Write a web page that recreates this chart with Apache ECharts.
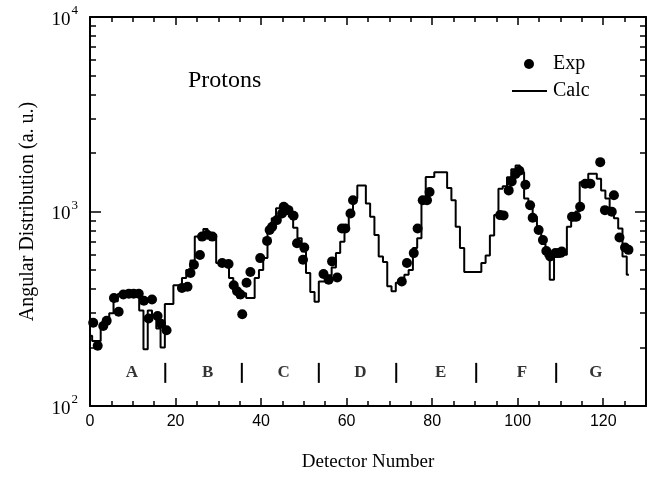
<!DOCTYPE html>
<html><head><meta charset="utf-8">
<script src="https://cdn.jsdelivr.net/npm/echarts@6/dist/echarts.min.js"></script>
<style>html,body{margin:0;padding:0;background:#fff}#c{width:662px;height:477px}</style>
</head><body><div id="c"></div>
<script>
// Calculated angular distribution, one value per detector (index = detector number)
const calcValues = [
  230,216,216,263,274,300,346,377,377,377,377,377,310,196,310,290,250,200,
  335,335,418,418,455,500,560,743,743,813,760,760,543,543,543,455,390,359,
  380,359,359,455,501,576,790,922,1040,1060,1060,939,826,728,622,483,386,344,
  437,437,470,516,611,700,835,958,1165,1361,1361,1100,939,757,587,550,413,389,
  430,450,473,501,650,728,1165,1503,1503,1593,1593,1593,1321,1143,835,650,489,489,
  489,489,543,594,752,958,1310,1350,1500,1650,1723,1593,1165,1035,939,818,680,587,
  446,587,587,600,835,900,1000,1415,1415,1563,1563,1473,1284,1165,1035,922,818,587,473
];
// Experimental points
const expDetector = [
  0.75,1.8,3.1,3.9,5.6,6.7,7.8,9.1,10.2,11.4,12.6,13.7,14.5,15.8,16.6,17.9,
  21.5,22.8,23.5,24.3,25.7,26.2,27.4,28.6,30.9,32.4,33.6,34.4,35.2,35.6,
  36.6,37.5,39.8,41.4,42.0,42.6,43.7,44.9,45.3,45.7,46.4,47.6,48.4,49.8,50.1,
  54.6,55.8,56.6,57.8,58.9,59.7,60.9,61.5,
  72.9,74.1,75.7,76.6,77.8,78.8,79.4,
  95.9,96.7,97.9,98.6,99.5,100.4,101.8,102.9,103.5,104.9,105.9,106.7,107.6,108.8,109.6,110.3,
  112.7,113.7,114.6,115.8,117.0,119.3,120.4,122.0,122.5,123.8,125.1,125.9
];
const expValues = [
  268,204,258,274,359,305,374,378,378,378,348,282,353,290,265,245,
  404,410,483,532,598,743,760,743,543,537,418,389,374,296,
  430,489,576,706,803,835,903,977,1057,1035,1016,951,687,565,653,
  477,446,554,458,818,818,977,1143,
  437,543,611,818,1143,1143,1260,
  958,955,1284,1428,1560,1620,1374,1077,928,803,714,627,587,611,611,622,
  939,939,1057,1390,1390,1794,1016,996,1211,735,653,635
];
const sectionNames = ['A','B','C','D','E','F','G'];
const sectionCenters = [9.8,27.5,45.3,63.2,82.0,101.0,118.3];
const sectionBounds = [17.6,35.5,53.5,71.6,90.3,109.0];
const xTickLabels = [0,20,40,60,80,100,120];
const yMinorTicks = [200,300,400,500,600,700,800,900,2000,3000,4000,5000,6000,7000,8000,9000];

const serif = 'Liberation Serif';
const sans = 'Liberation Sans';
const sectionY = 148;
const minorExp = yMinorTicks.map(v => Math.log10(v));

const chart = echarts.init(document.getElementById('c'), null, {renderer: 'canvas'});
const axisLine = {show: true, lineStyle: {color: '#000', width: 2}};
const helperY = (pos) => ({
  type: 'value', min: 2, max: 4, position: pos,
  axisLine: {show: false}, axisLabel: {show: false}, splitLine: {show: false},
  axisTick: {show: true, inside: true, length: 6, lineStyle: {color: '#000', width: 1.5}, customValues: minorExp}
});
chart.setOption({
  animation: false,
  backgroundColor: '#fff',
  title: {text: 'Protons', left: 183, top: 64, textStyle: {fontFamily: serif, fontSize: 24, fontWeight: 'normal', color: '#000'}},
  legend: [
    {data: [{name: 'Exp', icon: 'circle'}], left: 519, top: 49, itemWidth: 34, itemHeight: 10,
     textStyle: {fontFamily: serif, fontSize: 20, color: '#000', padding: [0,0,0,2]}},
    {data: [{name: 'Calc', icon: 'rect'}], left: 507, top: 76, itemWidth: 35, itemHeight: 2,
     textStyle: {fontFamily: serif, fontSize: 20, color: '#000', padding: [0,0,0,1]}}
  ],
  grid: {left: 90, right: 16, top: 17, bottom: 68, containLabel: false},
  xAxis: [
    {type: 'value', min: 0, max: 130, interval: 20, position: 'bottom',
     name: 'Detector Number', nameLocation: 'middle', nameGap: 47,
     nameTextStyle: {fontFamily: serif, fontSize: 19, color: '#000'},
     axisLine: axisLine, splitLine: {show: false},
     axisTick: {inside: true, length: 8, lineStyle: {color: '#000', width: 1.5}},
     minorTick: {show: true, splitNumber: 4, length: 5, lineStyle: {color: '#000', width: 1.5}},
     axisLabel: {fontFamily: sans, fontSize: 16, color: '#000', margin: 8,
       formatter: v => xTickLabels.includes(v) ? String(v) : ''}},
    {type: 'value', min: 0, max: 130, interval: 20, position: 'top',
     axisLine: axisLine, splitLine: {show: false}, axisLabel: {show: false},
     axisTick: {inside: true, length: 8, lineStyle: {color: '#000', width: 1.5}},
     minorTick: {show: true, splitNumber: 4, length: 5, lineStyle: {color: '#000', width: 1.5}}}
  ],
  yAxis: [
    {type: 'log', logBase: 10, min: 100, max: 10000, position: 'left',
     name: 'Angular Distribution (a. u.)', nameLocation: 'middle', nameGap: 52,
     nameTextStyle: {fontFamily: serif, fontSize: 20, color: '#000'},
     axisLine: axisLine, splitLine: {show: false},
     axisTick: {inside: true, length: 11, lineStyle: {color: '#000', width: 1.5}},
     axisLabel: {margin: 12,
       formatter: v => '{b|10}{s|' + Math.round(Math.log10(v)) + '}',
       rich: {b: {fontFamily: serif, fontSize: 19, color: '#000', padding: [6,0,0,0]},
              s: {fontFamily: serif, fontSize: 13, color: '#000', verticalAlign: 'top', padding: [0,0,12,1]}}}},
    helperY('left'),
    {type: 'log', logBase: 10, min: 100, max: 10000, position: 'right',
     axisLine: axisLine, splitLine: {show: false}, axisLabel: {show: false},
     axisTick: {inside: true, length: 11, lineStyle: {color: '#000', width: 1.5}}},
    helperY('right')
  ],
  series: [
    {name: 'Calc', type: 'line', step: 'middle', symbol: 'none', xAxisIndex: 0, yAxisIndex: 0,
     color: '#000', lineStyle: {color: '#000', width: 2},
     data: calcValues.map((v, i) => [i, v])},
    {name: 'Exp', type: 'scatter', symbol: 'circle', symbolSize: 10, xAxisIndex: 0, yAxisIndex: 0,
     itemStyle: {color: '#000', opacity: 1}, z: 3,
     data: expDetector.map((d, i) => [d, expValues[i]])},
    {name: 'bounds', type: 'scatter', symbol: 'rect', symbolSize: [2, 20], silent: true,
     xAxisIndex: 0, yAxisIndex: 0, itemStyle: {color: '#000', opacity: 1},
     data: sectionBounds.map(x => [x, sectionY])},
    {name: 'sections', type: 'scatter', symbolSize: 0, silent: true, xAxisIndex: 0, yAxisIndex: 0,
     label: {show: true, position: 'inside', formatter: p => p.name,
       fontFamily: serif, fontSize: 17, fontWeight: 'bold', color: '#000'},
     data: sectionCenters.map((x, i) => ({name: sectionNames[i], value: [x, sectionY]}))}
  ]
});
</script></body></html>
